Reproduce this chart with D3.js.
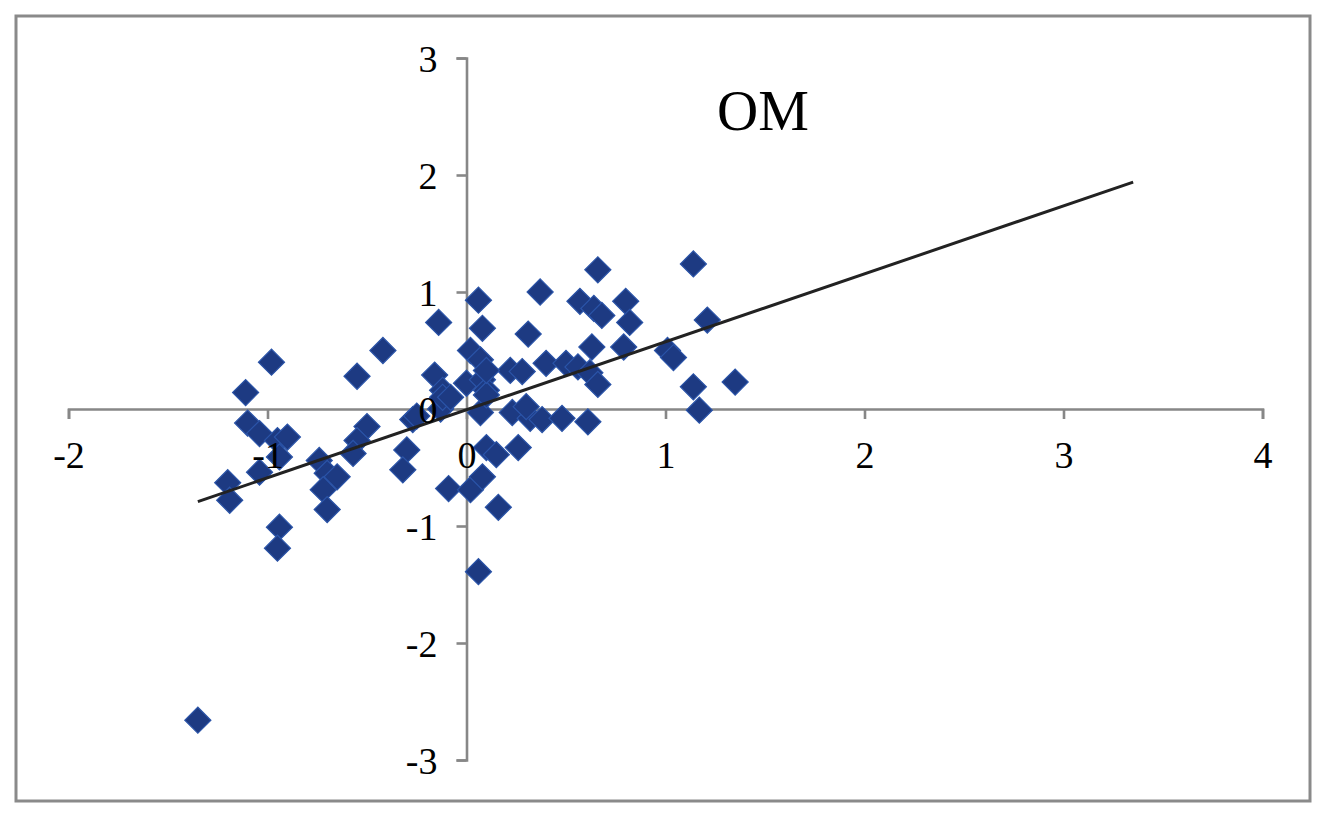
<!DOCTYPE html>
<html>
<head>
<meta charset="utf-8">
<script src="https://cdn.jsdelivr.net/npm/d3@7"></script>
<style>
  html, body { margin: 0; padding: 0; background: #fff; }
  svg { display: block; }
</style>
</head>
<body>
<svg id="chart" width="1323" height="815"></svg>
<script>
// ---- data ----
const title = "OM";
const xTicks = [-2, -1, 0, 1, 2, 3, 4];
const yTicks = [-3, -2, -1, 0, 1, 2, 3];
const xValues = [
  -1.35, -1.20, -1.19, -1.11, -1.10, -1.04, -0.95, -0.90, -0.94, -1.04,
  -0.98, -0.94, -0.95, -0.55, -0.42, -0.14, -0.50, -0.55, -0.57, -0.74,
  -0.70, -0.65, -0.72, -0.70, -0.27, -0.30, -0.32, -0.16, -0.12, -0.25,
  -0.13, -0.12, -0.09, 0.02, 0.08, 0.16, 0.06, 0.10, 0.15, 0.26,
  0.06, 0.37, 0.66, 1.14, 0.57, 0.64, 0.68, 0.80, 0.82, 1.21,
  0.08, 0.31, 0.02, 0.07, 0.00, 0.08, 0.10, 0.22, 0.28, 0.40,
  0.50, 0.56, 0.63, 0.62, 0.66, 0.79, 1.01, 1.04, 1.14, 1.17,
  1.35, 0.07, 0.23, 0.32, 0.38, 0.48, 0.61,
  -0.08, 0.10, 0.30, 0.10
];
const yValues = [
  -2.66, -0.63, -0.78, 0.14, -0.12, -0.21, -0.27, -0.24, -0.41, -0.54,
  0.40, -1.01, -1.19, 0.28, 0.50, 0.74, -0.15, -0.27, -0.38, -0.44,
  -0.55, -0.58, -0.69, -0.86, -0.09, -0.35, -0.52, 0.29, 0.16, -0.06,
  0.00, 0.10, -0.68, -0.69, -0.58, -0.84, -1.39, -0.33, -0.39, -0.33,
  0.93, 1.00, 1.19, 1.24, 0.92, 0.86, 0.80, 0.92, 0.74, 0.76,
  0.69, 0.64, 0.50, 0.42, 0.22, 0.25, 0.16, 0.33, 0.32, 0.39,
  0.39, 0.36, 0.53, 0.31, 0.21, 0.53, 0.50, 0.44, 0.19, -0.01,
  0.23, -0.03, -0.03, -0.08, -0.09, -0.08, -0.11,
  0.10, 0.12, 0.02, 0.33
];
// linear trendline: y = slope*x + intercept, drawn over [start, end]
const trendSlope = 0.581;
const trendIntercept = -0.007;
const trendRange = [-1.35, 3.35];

// ---- layout ----
const svg = d3.select("#chart");
const x = d3.scaleLinear().domain([-2, 4]).range([68.5, 1262.5]);
const y = d3.scaleLinear().domain([-3, 3]).range([760, 58]);
const font = "'Liberation Serif', 'Times New Roman', serif";
const axisColor = "#878787";
const fmt = d => String(d);   // plain hyphen-minus as in the picture

// frame
svg.append("rect")
  .attr("x", 16).attr("y", 16).attr("width", 1294).attr("height", 785)
  .attr("fill", "#fff").attr("stroke", "#8a8a8a").attr("stroke-width", 3);

// axis lines (bottom layer)
const xAxis = d3.axisBottom(x).tickValues(xTicks).tickSize(10).tickSizeOuter(10).tickFormat(fmt);
const yAxis = d3.axisLeft(y).tickValues(yTicks).tickSize(10).tickSizeOuter(10).tickFormat(fmt);

function styleLines(g) {
  g.select(".domain").attr("stroke", axisColor).attr("stroke-width", 2.6);
  g.selectAll(".tick line").attr("stroke", axisColor).attr("stroke-width", 2.6);
  g.selectAll("text").remove();
}
svg.append("g").attr("transform", `translate(0,${y(0)})`).call(xAxis).call(styleLines);
svg.append("g").attr("transform", `translate(${x(0)},0)`).call(yAxis).call(styleLines);

// markers
const pts = xValues.map((v, i) => ({ x: v, y: yValues[i] }));
const diamond = d3.symbol().type(d3.symbolSquare).size(340);
svg.append("g").selectAll("path")
  .data(pts).enter().append("path")
  .attr("d", diamond)
  .attr("transform", d => `translate(${x(d.x)},${y(d.y)}) rotate(45)`)
  .attr("fill", "#1d3a82")
  .attr("stroke", "#2b54a8")
  .attr("stroke-width", 1.2);

// trendline
svg.append("line")
  .attr("x1", x(trendRange[0])).attr("y1", y(trendSlope * trendRange[0] + trendIntercept))
  .attr("x2", x(trendRange[1])).attr("y2", y(trendSlope * trendRange[1] + trendIntercept))
  .attr("stroke", "#222").attr("stroke-width", 3);

// tick labels (top layer)
function styleText(g) {
  g.select(".domain").remove();
  g.selectAll(".tick line").remove();
  g.selectAll("text").attr("font-family", font).attr("font-size", 38).attr("fill", "#000");
}
svg.append("g").attr("transform", `translate(0,${y(0)})`)
  .call(xAxis).call(styleText)
  .selectAll("text").attr("y", 59).attr("dy", 0);
svg.append("g").attr("transform", `translate(${x(0)},0)`)
  .call(yAxis).call(styleText)
  .selectAll("text").attr("x", -29).attr("dy", "0.35em");

// title
svg.append("text")
  .attr("x", 717).attr("y", 130)
  .attr("font-family", font).attr("font-size", 57).attr("fill", "#000")
  .text(title);
</script>
</body>
</html>
